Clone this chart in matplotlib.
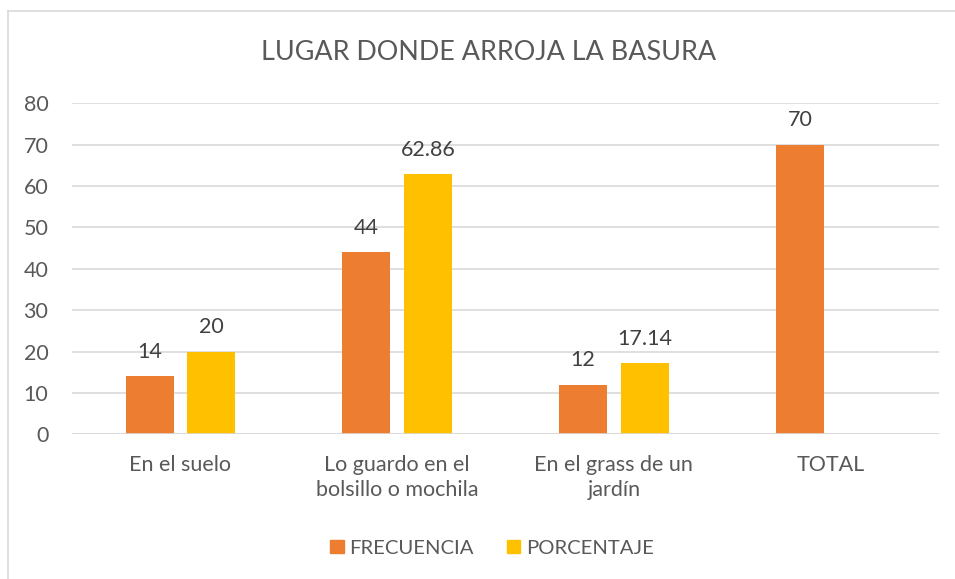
import numpy as np
import matplotlib.pyplot as plt
from matplotlib.patches import Rectangle

categories = ["En el suelo", "Lo guardo en el\nbolsillo o mochila", "En el grass de un\njardín", "TOTAL"]
frecuencia = [14, 44, 12, 70]
porcentaje = [20, 62.86, 17.14, None]
freq_labels = ["14", "44", "12", "70"]
pct_labels = ["20", "62.86", "17.14", None]

ORANGE = "#ED7D31"
YELLOW = "#FFC000"
TEXT = "#595959"
GRID = "#D9D9D9"

plt.rcParams['font.family'] = ['Lato', 'DejaVu Sans']

fig = plt.figure(figsize=(9.55, 5.79), dpi=100)
ax = fig.add_axes([72 / 955, 1 - 434.3 / 579, (939 - 72) / 955, (434.3 - 103.3) / 579])

# chart border (only left and top visible in the reference crop)
fig.add_artist(plt.Line2D([8 / 955, 8 / 955], [0, 1 - 11 / 579], color=GRID, lw=1.2, transform=fig.transFigure))
fig.add_artist(plt.Line2D([8 / 955, 1], [1 - 11 / 579, 1 - 11 / 579], color=GRID, lw=1.2, transform=fig.transFigure))

x = np.arange(len(categories))
w = 0.222
off = 0.1417

for i in x:
    ax.bar(i - off, frecuencia[i], w, color=ORANGE, zorder=3)
    ax.text(i - off, frecuencia[i] + 5.9, freq_labels[i], ha='center', va='center', fontsize=15.5, color="#404040")
    if porcentaje[i] is not None:
        ax.bar(i + off, porcentaje[i], w, color=YELLOW, zorder=3)
        ax.text(i + off, porcentaje[i] + 5.9, pct_labels[i], ha='center', va='center', fontsize=15.5, color="#404040")

ax.set_xlim(-0.5, len(categories) - 0.5)
ax.set_ylim(0, 80)
ax.set_yticks(range(0, 81, 10))
ax.set_xticks(x)
ax.set_xticklabels(categories, fontsize=15.5, color=TEXT, linespacing=1.3)
ax.tick_params(axis='y', labelsize=15.5, labelcolor=TEXT, length=0, pad=17)
ax.tick_params(axis='x', length=0, pad=15)
ax.grid(axis='y', color=GRID, lw=1.2, zorder=0)
for s in ax.spines.values():
    s.set_visible(False)
ax.axhline(0, color=GRID, lw=1.2, zorder=4)

fig.text(489 / 955, 1 - 52 / 579, "LUGAR DONDE ARROJA LA BASURA", ha='center', va='center', fontsize=19.4, color=TEXT)

handles = [Rectangle((0, 0), 1, 1, color=ORANGE), Rectangle((0, 0), 1, 1, color=YELLOW)]
fig.legend(handles, ["FRECUENCIA", "PORCENTAJE"], loc='center', bbox_to_anchor=(492 / 955, 1 - 548 / 579),
           ncol=2, frameon=False, fontsize=14.6, labelcolor=TEXT, handlelength=0.65, handleheight=0.65,
           handletextpad=0.3, columnspacing=1.6)

fig.savefig("out.png", dpi=100)
